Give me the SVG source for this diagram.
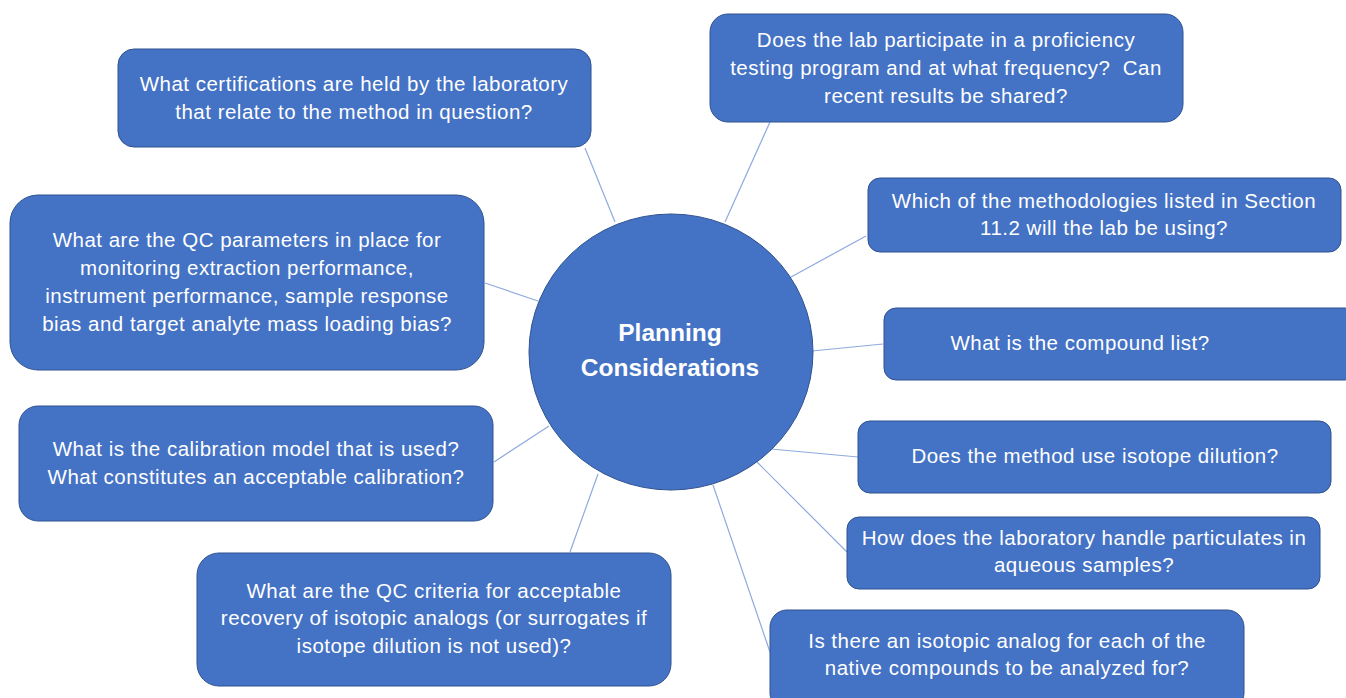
<svg xmlns="http://www.w3.org/2000/svg" width="1346" height="698" viewBox="0 0 1346 698">
<style>
.box{fill:#4472C4;stroke:#2F528F;stroke-width:1}
.t{font-family:"Liberation Sans",Arial,sans-serif;font-size:20.5px;letter-spacing:0.5px;fill:#fff;text-anchor:middle;white-space:pre}
.c{font-family:"Liberation Sans",Arial,sans-serif;font-size:24.5px;font-weight:bold;fill:#fff;text-anchor:middle}
.conn line{stroke:#8FAADC;stroke-width:1.2}
</style>
<rect width="1346" height="698" fill="#fff"/>
<g class="conn" id="connectors">
<line x1="585" y1="148" x2="615" y2="222"/>
<line x1="770" y1="122" x2="725" y2="222"/>
<line x1="866" y1="236" x2="791" y2="277"/>
<line x1="883" y1="344" x2="812" y2="351"/>
<line x1="858" y1="457" x2="771" y2="449"/>
<line x1="847" y1="552" x2="757" y2="462"/>
<line x1="770" y1="652" x2="713" y2="485"/>
<line x1="570" y1="552" x2="598" y2="474"/>
<line x1="494" y1="462" x2="549" y2="426"/>
<line x1="485" y1="283" x2="538" y2="301"/>
</g>
<g id="center">
<ellipse class="box" cx="671" cy="352" rx="142" ry="138"/>
<text class="c" x="670" y="341">Planning</text>
<text class="c" x="670" y="376">Considerations</text>
</g>
<g id="n1">
<rect class="box" x="118" y="49" width="473" height="98" rx="16"/>
<text class="t" x="354" y="91">What certifications are held by the laboratory</text>
<text class="t" x="354" y="119">that relate to the method in question?</text>
</g>
<g id="n2">
<rect class="box" x="710" y="14" width="473" height="108" rx="18"/>
<text class="t" x="946" y="47">Does the lab participate in a proficiency</text>
<text class="t" x="946" y="75">testing program and at what frequency?  Can</text>
<text class="t" x="946" y="103">recent results be shared?</text>
</g>
<g id="n3">
<rect class="box" x="868" y="178" width="473" height="74" rx="12"/>
<text class="t" x="1104" y="208">Which of the methodologies listed in Section</text>
<text class="t" x="1104" y="235">11.2 will the lab be using?</text>
</g>
<g id="n4">
<rect class="box" x="884" y="308" width="473" height="72" rx="12"/>
<text class="t" x="1080" y="350">What is the compound list?</text>
</g>
<g id="n5">
<rect class="box" x="858" y="421" width="473" height="72" rx="12"/>
<text class="t" x="1095" y="463">Does the method use isotope dilution?</text>
</g>
<g id="n6">
<rect class="box" x="847" y="517" width="473" height="72" rx="12"/>
<text class="t" x="1084" y="545">How does the laboratory handle particulates in</text>
<text class="t" x="1084" y="572">aqueous samples?</text>
</g>
<g id="n7">
<rect class="box" x="770" y="610" width="474" height="100" rx="17"/>
<text class="t" x="1007" y="648">Is there an isotopic analog for each of the</text>
<text class="t" x="1007" y="675">native compounds to be analyzed for?</text>
</g>
<g id="n8">
<rect class="box" x="197" y="553" width="474" height="133" rx="22"/>
<text class="t" x="434" y="598">What are the QC criteria for acceptable</text>
<text class="t" x="434" y="625">recovery of isotopic analogs (or surrogates if</text>
<text class="t" x="434" y="653">isotope dilution is not used)?</text>
</g>
<g id="n9">
<rect class="box" x="19" y="406" width="474" height="115" rx="19"/>
<text class="t" x="256" y="456">What is the calibration model that is used?</text>
<text class="t" x="256" y="484">What constitutes an acceptable calibration?</text>
</g>
<g id="n10">
<rect class="box" x="10" y="195" width="474" height="175" rx="28"/>
<text class="t" x="247" y="247">What are the QC parameters in place for</text>
<text class="t" x="247" y="275">monitoring extraction performance,</text>
<text class="t" x="247" y="303">instrument performance, sample response</text>
<text class="t" x="247" y="331">bias and target analyte mass loading bias?</text>
</g>
</svg>
